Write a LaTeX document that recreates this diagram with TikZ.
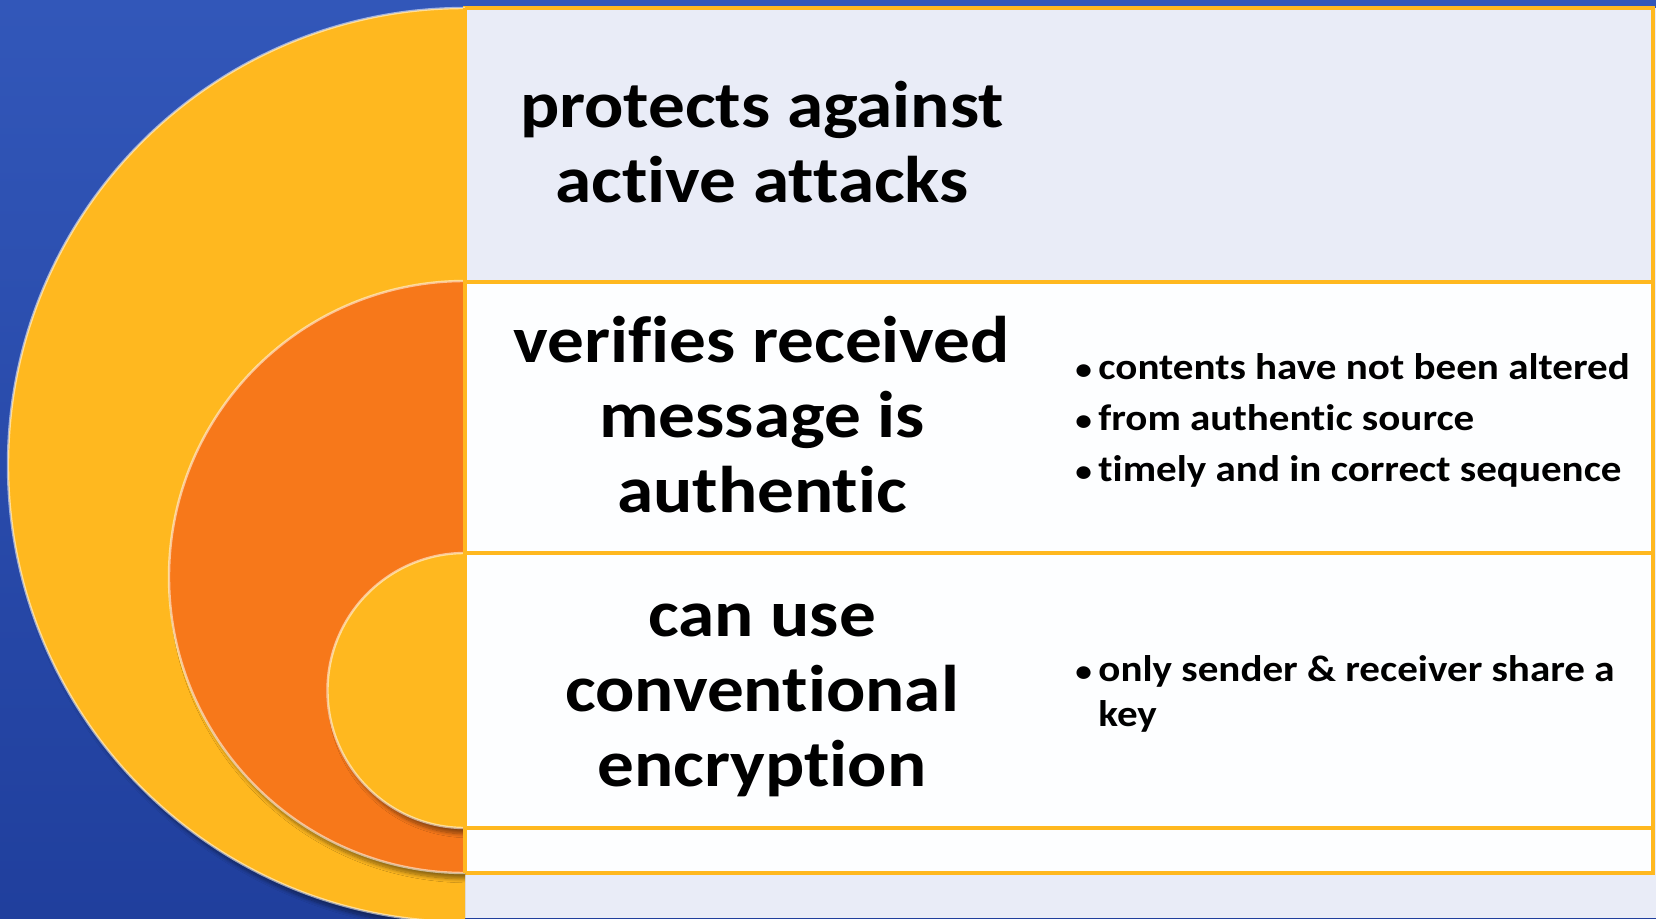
\documentclass[tikz,border=0pt]{standalone}
\usepackage{fontspec}
\setmainfont{Carlito}[FakeStretch=1.11, Ligatures={NoCommon}]
\usetikzlibrary{shadows,shadows.blur}
\definecolor{slidetop}{HTML}{3257B9}
\definecolor{slidebot}{HTML}{203F9D}
\definecolor{gold}{HTML}{FFB81F}
\definecolor{tangerine}{HTML}{F7781A}
\definecolor{panel}{HTML}{E9ECF7}
\definecolor{paper}{HTML}{FDFEFF}
\newcommand{\bitem}{\makebox[11.5pt][l]{\fontsize{15}{15}\selectfont•}}
\tikzset{
  band/.style={draw=gold, line width=2pt},
  disc/.style={blur shadow={shadow xshift=2pt, shadow yshift=-3pt, shadow blur steps=10, shadow opacity=45}},
  bevel/.style={draw=white, draw opacity=0.55, line width=1.2pt},
  mainlabel/.style={align=center, inner sep=0pt, font=\fontsize{33}{37.5}\selectfont\bfseries},
  points/.style={align=left, anchor=west, inner sep=0pt, font=\fontsize{18.5}{22.5}\selectfont\bfseries}
}
\begin{document}
\begin{tikzpicture}[x=0.5pt,y=0.5pt]
  \useasboundingbox (0,0) rectangle (1656,918);
  \shade[top color=slidetop, bottom color=slidebot] (0,0) rectangle (1656,918);
  \fill[panel] (465,0) rectangle (1656,910);
  \draw[band, fill=panel] (465,636) rectangle (1653,910);
  \draw[band, fill=paper] (465,365) rectangle (1653,636);
  \draw[band, fill=paper] (465,90) rectangle (1653,365);
  \draw[band, fill=paper] (465,45) rectangle (1653,90);
  \begin{scope}
    \clip (0,0) rectangle (465,918);
    \fill[gold, disc] (465,910) arc[start angle=90, end angle=270, radius=457] -- cycle;
    \draw[bevel] (465,910) arc[start angle=90, end angle=270, radius=457];
    \fill[tangerine, disc] (465,637) arc[start angle=90, end angle=270, radius=296] -- cycle;
    \draw[bevel] (465,637) arc[start angle=90, end angle=270, radius=296];
    \fill[gold, disc] (465,365) arc[start angle=90, end angle=270, radius=137.5] -- cycle;
    \draw[bevel] (465,365) arc[start angle=90, end angle=270, radius=137.5];
  \end{scope}
  \draw[band] (465,45) -- (465,910);

  \node[mainlabel] (active) at (762,776) {protects against\\active attacks};
  \node[mainlabel] (authentic) at (762,503) {verifies received\\message is\\authentic};
  \node[mainlabel] (conventional) at (762,218) {can use\\conventional\\encryption};

  \node[points] (authpoints) at (1075,498) {\bitem contents have not been altered\\[3pt]\bitem from authentic source\\[3pt]\bitem timely and in correct sequence};
  \node[points] (keypoints) at (1075,224) {\bitem only sender \& receiver share a\\\hspace*{11.5pt}key};
\end{tikzpicture}
\end{document}
